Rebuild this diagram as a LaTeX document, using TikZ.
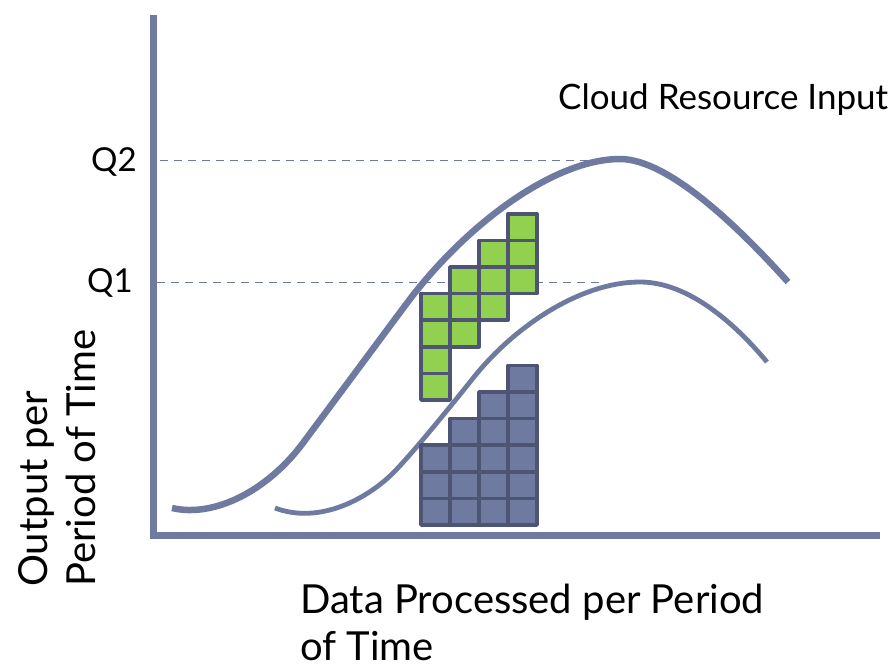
\documentclass[tikz,border=0pt]{standalone}
\usepackage{fontspec}
\setmainfont{Lato}
\definecolor{slate}{RGB}{111,122,160}
\definecolor{slatedark}{RGB}{78,84,115}
\definecolor{leaf}{RGB}{146,208,80}

\begin{document}
\begin{tikzpicture}[x=1pt,y=-1pt,
    axisline/.style={line width=7pt, color=slate},
    curveline/.style={color=slate},
    qline/.style={color=slate, line width=1.8pt, dash pattern=on 8pt off 6pt},
    cell/.style={draw=slatedark, line width=3.5pt, line join=round},
    axistext/.style={inner sep=0pt, font=\fontsize{40}{44}\selectfont}]
    \useasboundingbox (0,0) rectangle (896,670);

    % draw the output levels
    \draw[qline] (160,160.5) coordinate (q2a) -- (590,160.5) coordinate (q2b);
    \draw[qline] (157,282.5) coordinate (q1a) -- (602,282.5) coordinate (q1b);
    \node[axistext, font=\fontsize{33}{36}\selectfont, anchor=base east] (qtwo) at (137,171) {Q2};
    \node[axistext, font=\fontsize{33}{36}\selectfont, anchor=base east] (qone) at (133,292) {Q1};

    % draw the two output curves
    \draw[curveline, line width=6.5pt]
        (172,508) .. controls (215,518) and (268,490) .. (303,443)
        -- (407,303)
        .. controls (467,223) and (555,159) .. (620,159)
        .. controls (670,159) and (743,232) .. (788,282);
    \draw[curveline, line width=4.8pt]
        (275,508) .. controls (320,525) and (368,498) .. (393,473)
        .. controls (413,453) and (454,402) .. (474,377)
        .. controls (514,327) and (580,282) .. (640,282)
        .. controls (690,282) and (737,326) .. (767,362);
    \node[axistext, font=\fontsize{35}{38}\selectfont, anchor=base west] (cloud) at (558,109) {Cloud Resource Input};

    % draw the green blocks
    \foreach \col/\lo/\hi in {0/0/3, 1/2/4, 2/3/5, 3/4/6}
        \foreach \row in {\lo,...,\hi}
            \draw[cell, fill=leaf] ({421+\col*29},{400-\row*26.6}) rectangle ++(29,-26.6);

    % draw the blue blocks
    \foreach \col/\hi in {0/2, 1/3, 2/4, 3/5}
        \foreach \row in {0,...,\hi}
            \draw[cell, fill=slate] ({421+\col*29},{525-\row*26.6}) rectangle ++(29,-26.6);

    % draw the coordinates
    \draw[axisline] (153.5,15) coordinate (ytop) -- (153.5,539) coordinate (o);
    \draw[axisline] (150,535.5) coordinate (o') -- (880,535.5) coordinate (xend);

    \node[axistext, anchor=base west] (xtitle) at (300,613) {Data Processed per Period};
    \node[axistext, anchor=base west] (xtitletwo) at (300,660) {of Time};
    \node[axistext, rotate=90, anchor=base west] (ytitle) at (47,587) {Output per};
    \node[axistext, rotate=90, anchor=base west] (ytitletwo) at (95,587) {Period of Time};
\end{tikzpicture}
\end{document}
